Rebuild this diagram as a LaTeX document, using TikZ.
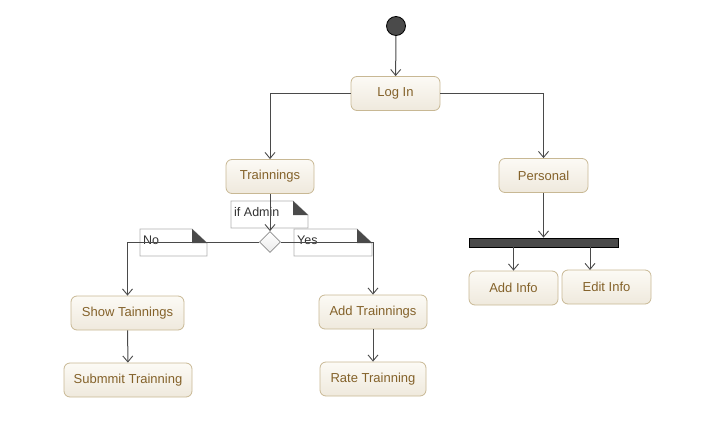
\documentclass[tikz,border=0pt]{standalone}
\usepackage{fontspec}
\setmainfont{Liberation Sans}
\usetikzlibrary{arrows.meta,shapes.geometric,calc}
\definecolor{nodeborder}{HTML}{C8B894}
\definecolor{nodetop}{HTML}{FCFAF5}
\definecolor{nodebot}{HTML}{EFE9DD}
\definecolor{nodetext}{HTML}{84622A}
\definecolor{edgecol}{HTML}{4A4A4A}
\definecolor{notebord}{HTML}{B0B0B0}
\definecolor{darkfill}{HTML}{4A4A4A}
\tikzset{
  act/.style={draw=nodeborder, line width=0.8pt, rounded corners=6pt,
    top color=nodetop, bottom color=nodebot, text=nodetext,
    font=\fontsize{13}{15}\selectfont, inner sep=0pt, minimum height=34pt},
  edge/.style={draw=edgecol, line width=1pt, -{Straight Barb[length=6pt,width=10pt,line width=0.9pt]}},
  notebox/.style={draw=notebord, fill=white, line width=0.8pt},
  notetext/.style={text=black!80, font=\fontsize{12.5}{14}\selectfont, inner sep=0pt, anchor=west},
}
\begin{document}
\begin{tikzpicture}[x=1pt,y=-1pt]
\useasboundingbox (0,0) rectangle (708,441);
% start
\node[circle, draw=black, fill=darkfill, line width=0.8pt, minimum size=19pt, inner sep=0pt] (start) at (396,26) {};
% activities
\node[act, minimum width=89pt] (login) at (395.5,93.5) {Log In};
\node[act, minimum width=88pt] (train) at (270,176.5) {Trainnings};
\node[act, minimum width=89pt] (pers) at (543.5,175.5) {Personal};
\node[act, minimum width=89pt] (addinfo) at (513.5,288) {Add Info};
\node[act, minimum width=89pt] (editinfo) at (606.5,287) {Edit Info};
\node[act, minimum width=113pt] (show) at (127.5,313) {Show Tainnings};
\node[act, minimum width=128pt] (submit) at (128,380) {Submmit Trainning};
\node[act, minimum width=108pt] (addtr) at (373,312) {Add Trainnings};
\node[act, minimum width=106pt] (rate) at (373,379) {Rate Trainning};
% fork bar
\node[draw=black, fill=darkfill, line width=0.8pt, minimum width=149pt, minimum height=9pt, inner sep=0pt] (bar) at (543.5,242.5) {};
% notes
\draw[notebox] (231,201) -- (293,201) -- (308,215) -- (308,228) -- (231,228) -- cycle;
\fill[darkfill] (293,201) -- (293,215) -- (308,215) -- cycle;
\node[notetext] (nadmin) at (234,212) {if Admin};
\draw[notebox] (140,229) -- (192,229) -- (207,243) -- (207,256) -- (140,256) -- cycle;
\fill[darkfill] (192,229) -- (192,243) -- (207,243) -- cycle;
\node[notetext] (nno) at (143,240) {No};
\draw[notebox] (294,229) -- (357,229) -- (372,243) -- (372,256) -- (294,256) -- cycle;
\fill[darkfill] (357,229) -- (357,243) -- (372,243) -- cycle;
\node[notetext] (nyes) at (297,240) {Yes};
% decision
\node[diamond, draw=black!45, top color=white, bottom color=black!8, line width=0.8pt, minimum width=21pt, minimum height=21pt, inner sep=0pt] (dec) at (270,242) {};
% edges
\draw[edge] (start) -- (login);
\draw[edge] (login.west) -| (train.north);
\draw[edge] (login.east) -| (pers.north);
\draw[edge] (train) -- (dec);
\draw[edge] (dec.west) -| (show.north);
\draw[edge] (dec.east) -| (addtr.north);
\draw[edge] (pers) -- (bar);
\draw[edge] (bar.south -| addinfo.north) -- (addinfo.north);
\coordinate (eitop) at (590,270);
\draw[edge] (bar.south -| eitop) -- (eitop);
\draw[edge] (show) -- (submit);
\draw[edge] (addtr) -- (rate);
\end{tikzpicture}
\end{document}
